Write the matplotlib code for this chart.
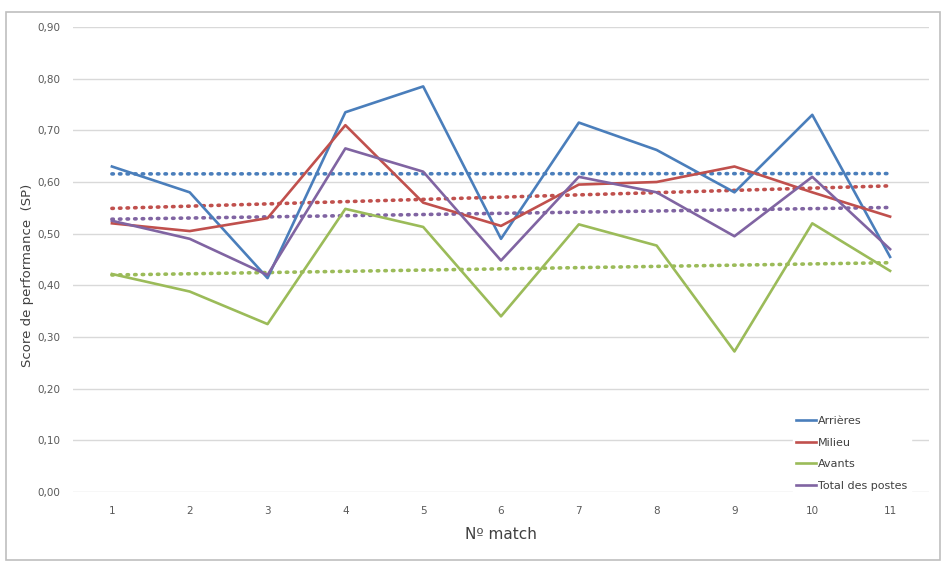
import numpy as np
import matplotlib
matplotlib.use('Agg')
import matplotlib.pyplot as plt
from matplotlib.patches import Rectangle

matches = [1, 2, 3, 4, 5, 6, 7, 8, 9, 10, 11]
arrieres = [0.63, 0.58, 0.414, 0.735, 0.785, 0.49, 0.715, 0.662, 0.58, 0.73, 0.455]
milieu = [0.52, 0.505, 0.53, 0.71, 0.56, 0.515, 0.595, 0.60, 0.63, 0.58, 0.533]
avants = [0.422, 0.388, 0.325, 0.548, 0.513, 0.34, 0.518, 0.477, 0.272, 0.52, 0.428]
total = [0.525, 0.49, 0.42, 0.665, 0.62, 0.448, 0.61, 0.58, 0.495, 0.61, 0.47]

names = ['Arrières', 'Milieu', 'Avants', 'Total des postes']
colors = ['#4A7EBB', '#C0504D', '#9BBB59', '#8064A2']
yticks = [0.0, 0.1, 0.2, 0.3, 0.4, 0.5, 0.6, 0.7, 0.8, 0.9]

plt.rcParams['font.family'] = ['DejaVu Sans']

fig = plt.figure(figsize=(9.45, 5.62), dpi=100)
fig.patches.append(Rectangle((6/945, 1-560/562), 934/945, 548/562, transform=fig.transFigure,
                             fill=False, edgecolor='#BFBFBF', linewidth=1.2))
ax = fig.add_axes([73/945, 1-492/562, 856/945, 465/562])

x = np.array(matches)
for data, name, c in zip([arrieres, milieu, avants, total], names, colors):
    ax.plot(x, data, color=c, linewidth=1.9, label=name, zorder=3)
for data, c in zip([arrieres, milieu, avants, total], colors):
    k, b = np.polyfit(x, data, 1)
    ax.plot(x, k*x+b, color=c, linewidth=2.6, linestyle=(0, (0.4, 1.7)),
            dash_capstyle='round', zorder=2)

ax.set_xlim(0.5, 11.5)
ax.set_ylim(0, 0.9)
ax.set_yticks(yticks)
ax.set_yticklabels([('%.2f' % v).replace('.', ',') for v in yticks])
ax.set_xticks(matches)
ax.grid(axis='y', color='#D9D9D9', linewidth=1)
ax.set_axisbelow(True)
for s in ax.spines.values():
    s.set_visible(False)
ax.tick_params(length=0, labelsize=7.5, colors='#595959', pad=10)
ax.tick_params(axis='y', pad=9)

ax.set_xlabel('Nº match', fontsize=11, color='#404040', labelpad=8)
fig.text(28/945, 1-275/562, 'Score de performance  (SP)', rotation=90,
         ha='center', va='center', fontsize=9.5, color='#404040')

leg = ax.legend(loc='upper left', bbox_to_anchor=(787/945, 1-407/562),
                bbox_transform=fig.transFigure, frameon=True, fontsize=8,
                handlelength=1.8, handletextpad=0.2, labelspacing=1.05,
                borderpad=0.3, fancybox=False)
leg.get_frame().set_edgecolor('white')
leg.get_frame().set_alpha(1)
for t in leg.get_texts():
    t.set_color('#404040')

fig.savefig('out.png', dpi=100)
